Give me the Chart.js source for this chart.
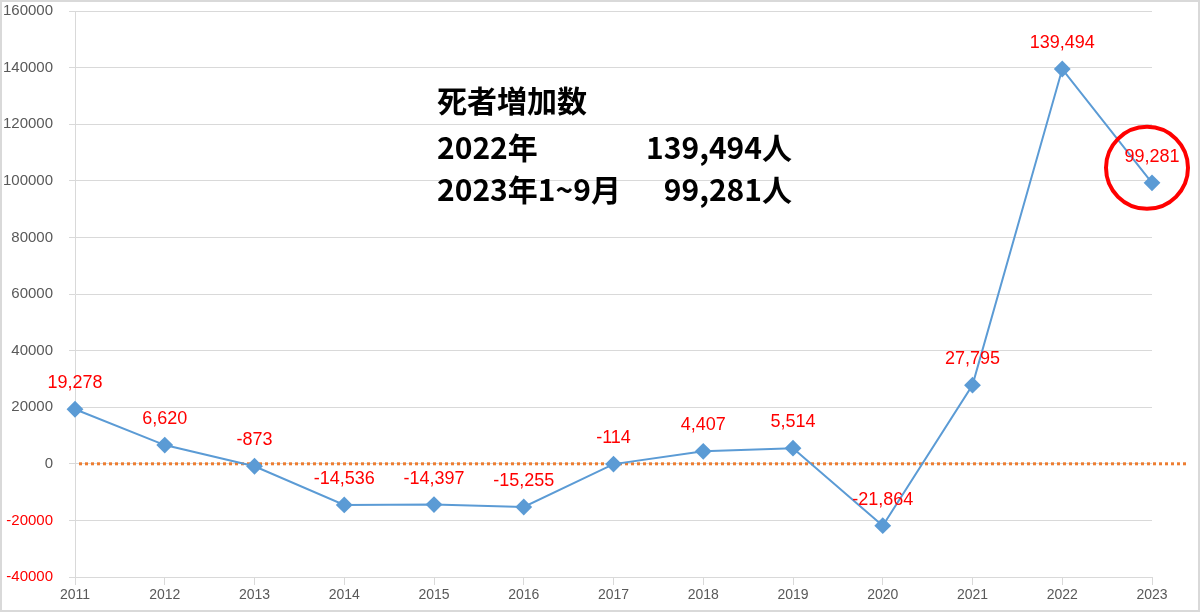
<!DOCTYPE html>
<html>
<head>
<meta charset="utf-8">
<script src="https://cdn.jsdelivr.net/npm/chart.js@4"></script>
<style>
  html, body { margin: 0; padding: 0; background: #fff; }
  #wrap { width: 1200px; height: 612px; }
</style>
</head>
<body>
<div id="wrap"><canvas id="deaths"></canvas></div>
<script>
// years and yearly increase of deaths
const years = ['2011','2012','2013','2014','2015','2016','2017','2018','2019','2020','2021','2022','2023'];
const increase = [19278, 6620, -873, -14536, -14397, -15255, -114, 4407, 5514, -21864, 27795, 139494, 99281];
const noteLines = [
  ['死者増加数', ''],
  ['2022年', '139,494人'],
  ['2023年1~9月', '99,281人']
];

// red number above every point
const pointLabels = {
  id: 'pointLabels',
  afterDatasetsDraw(chart) {
    const ctx = chart.ctx;
    const meta = chart.getDatasetMeta(0);
    ctx.save();
    ctx.font = '18px "Liberation Sans", Arial, sans-serif';
    ctx.fillStyle = '#FF0000';
    ctx.textAlign = 'center';
    ctx.textBaseline = 'middle';
    meta.data.forEach((pt, i) => {
      ctx.fillText(increase[i].toLocaleString('en-US'), pt.x, pt.y - 26);
    });
    ctx.restore();
  }
};

// dotted zero line, circle on 2023, text note and frame
const extras = {
  id: 'extras',
  beforeDatasetsDraw(chart) {
    const ctx = chart.ctx;
    const y0 = chart.scales.y.getPixelForValue(0);
    ctx.save();
    ctx.strokeStyle = '#ED7D31';
    ctx.lineWidth = 3;
    ctx.setLineDash([3, 3]);
    ctx.beginPath();
    ctx.moveTo(chart.chartArea.left + 4, y0);
    ctx.lineTo(1186, y0);
    ctx.stroke();
    ctx.restore();
  },
  afterDraw(chart) {
    const ctx = chart.ctx;
    const meta = chart.getDatasetMeta(0);
    const last = meta.data[meta.data.length - 1];
    ctx.save();
    ctx.strokeStyle = '#FF0000';
    ctx.lineWidth = 4;
    ctx.beginPath();
    ctx.arc(last.x - 5, last.y - 15, 41, 0, Math.PI * 2);
    ctx.stroke();

    ctx.fillStyle = '#000';
    ctx.font = 'bold 30px "Noto Sans CJK JP", sans-serif';
    ctx.textBaseline = 'middle';
    const rows = [101, 148, 190];
    noteLines.forEach((row, i) => {
      ctx.textAlign = 'left';
      ctx.fillText(row[0], 437, rows[i]);
      if (row[1]) {
        ctx.textAlign = 'right';
        ctx.fillText(row[1], 792, rows[i]);
      }
    });

    ctx.strokeStyle = '#D9D9D9';
    ctx.lineWidth = 2;
    ctx.setLineDash([]);
    ctx.strokeRect(1, 1, chart.width - 2, chart.height - 2);
    ctx.restore();
  }
};

new Chart('deaths', {
  type: 'line',
  data: {
    labels: years,
    datasets: [{
      data: increase,
      borderColor: '#5B9BD5',
      backgroundColor: '#5B9BD5',
      borderWidth: 2,
      pointStyle: 'rectRot',
      pointRadius: 7,
      pointHoverRadius: 7,
      tension: 0
    }]
  },
  options: {
    responsive: true,
    maintainAspectRatio: false,
    animation: false,
    layout: { padding: { left: 0, right: 48, top: 11, bottom: 0 } },
    plugins: {
      legend: { display: false },
      tooltip: { enabled: false }
    },
    scales: {
      x: {
        offset: false,
        afterFit(scale) { scale.height = 35; scale.paddingLeft = 0; scale.paddingRight = 0; },
        grid: { display: true, drawOnChartArea: false, color: '#D9D9D9', tickLength: 8 },
        border: { color: '#D9D9D9' },
        ticks: {
          color: '#595959',
          font: { size: 14, family: '"Liberation Sans", Arial, sans-serif' },
          padding: 2,
          maxRotation: 0
        }
      },
      y: {
        min: -40000,
        max: 160000,
        afterFit(scale) { scale.width = 75; scale.paddingTop = 0; scale.paddingBottom = 0; },
        grid: { color: '#D9D9D9', tickLength: 6 },
        border: { color: '#D9D9D9' },
        ticks: {
          stepSize: 20000,
          padding: 16,
          color: ctx => ctx.tick.value < 0 ? '#FF0000' : '#595959',
          font: { size: 15, family: '"Liberation Sans", Arial, sans-serif' },
          callback: v => String(v)
        }
      }
    }
  },
  plugins: [pointLabels, extras]
});
</script>
</body>
</html>
